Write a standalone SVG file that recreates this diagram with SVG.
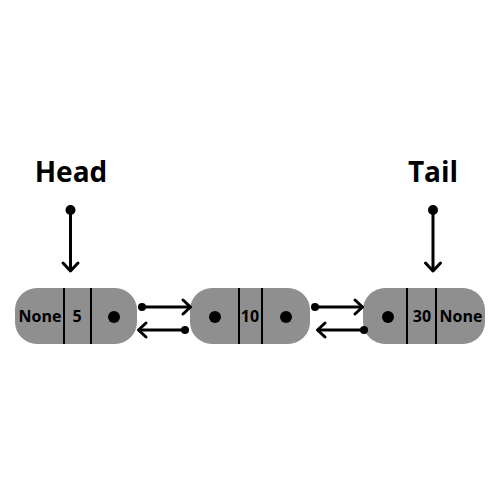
<svg xmlns="http://www.w3.org/2000/svg" width="500" height="500" viewBox="0 0 500 500">
<style>
.box{fill:#8f8f8f}
.div{stroke:#000;stroke-width:2}
.t{font-family:"Open Sans","DejaVu Sans",sans-serif;font-weight:bold;fill:#000;text-anchor:middle}
.s{font-size:16px}
.big{font-size:28px}
.ln{stroke:#000;stroke-width:3;fill:none;stroke-linecap:round;stroke-linejoin:round}
</style>
<rect width="500" height="500" fill="#fff"/>
<g id="head">
<text class="t big" x="71" y="182">Head</text>
</g>
<g id="tail">
<text class="t big" x="433" y="182">Tail</text>
</g>
<g id="node1">
<rect class="box" x="15" y="288" width="122" height="56" rx="22"/>
<line class="div" x1="64" y1="288" x2="64" y2="344"/>
<line class="div" x1="91" y1="288" x2="91" y2="344"/>
<text class="t s" x="40" y="322">None</text>
<text class="t s" x="77" y="322">5</text>
<circle cx="114" cy="317" r="6"/>
</g>
<g id="node2">
<rect class="box" x="190" y="288" width="120" height="56" rx="22"/>
<line class="div" x1="239" y1="288" x2="239" y2="344"/>
<line class="div" x1="262" y1="288" x2="262" y2="344"/>
<circle cx="215" cy="317" r="6"/>
<text class="t s" x="250" y="322">10</text>
<circle cx="286" cy="317" r="6"/>
</g>
<g id="node3">
<rect class="box" x="363" y="288" width="122" height="56" rx="22"/>
<line class="div" x1="407" y1="288" x2="407" y2="344"/>
<line class="div" x1="436" y1="288" x2="436" y2="344"/>
<circle cx="388" cy="317" r="6"/>
<text class="t s" x="422" y="322">30</text>
<text class="t s" x="461" y="322">None</text>
</g>
<g id="connectors">
<circle cx="70.5" cy="210" r="5"/>
<line class="ln" x1="70.5" y1="210" x2="70.5" y2="270"/>
<polyline class="ln" points="63,263 70.5,271 78,263"/>
<circle cx="433" cy="210" r="5"/>
<line class="ln" x1="433" y1="210" x2="433" y2="270"/>
<polyline class="ln" points="425.5,263 433,271 440.5,263"/>
<circle cx="142" cy="307" r="4"/>
<line class="ln" x1="142" y1="307" x2="190" y2="307"/>
<polyline class="ln" points="183,300 190.5,307 183,314"/>
<circle cx="185" cy="330" r="4"/>
<line class="ln" x1="185" y1="330" x2="139" y2="330"/>
<polyline class="ln" points="146,323 138.5,330 146,337"/>
<circle cx="315" cy="307" r="4"/>
<line class="ln" x1="315" y1="307" x2="362" y2="307"/>
<polyline class="ln" points="355,300 362.5,307 355,314"/>
<circle cx="364" cy="330" r="4"/>
<line class="ln" x1="364" y1="330" x2="318" y2="330"/>
<polyline class="ln" points="325,323 317.5,330 325,337"/>
</g>
</svg>
